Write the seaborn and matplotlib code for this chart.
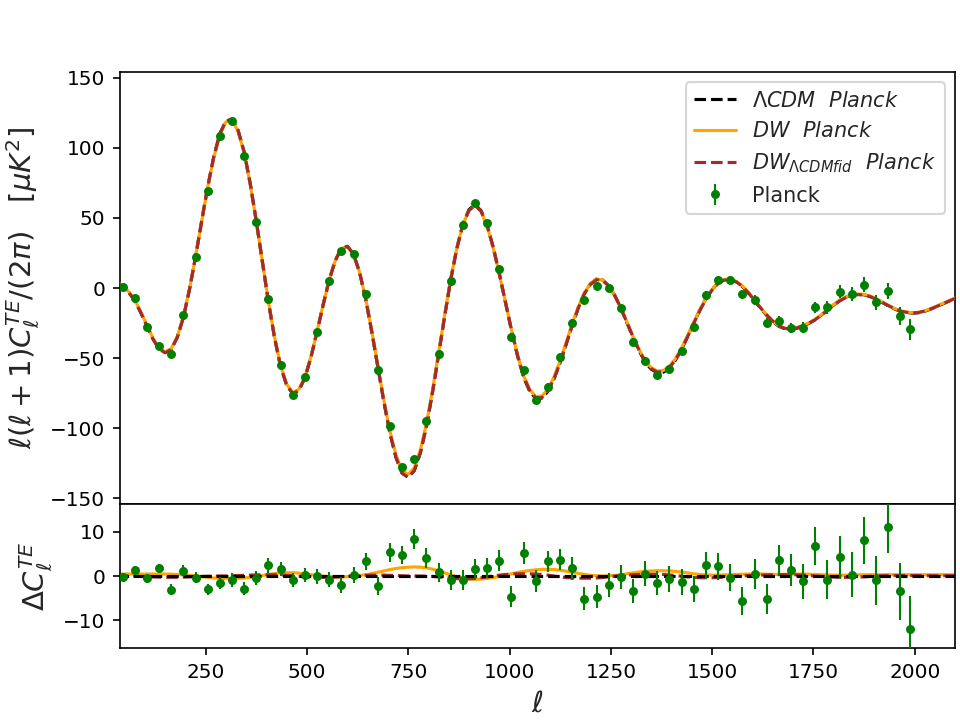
"""TE power spectrum: Planck binned data vs LCDM / DW model curves, with residual panel."""

import matplotlib
matplotlib.use("Agg")
import matplotlib.pyplot as plt
import numpy as np
import pandas as pd
import seaborn as sns

sns.set_theme(style="ticks", context="notebook")
plt.rcParams.update({
    "font.family": ["DejaVu Sans"],
    "mathtext.fontset": "dejavusans",
    "axes.edgecolor": "black",
    "axes.linewidth": 0.8,
    "xtick.color": "black",
    "ytick.color": "black",
    "xtick.major.size": 3.5,
    "ytick.major.size": 3.5,
    "xtick.major.width": 0.8,
    "ytick.major.width": 0.8,
    "xtick.major.pad": 3.5,
    "ytick.major.pad": 3.5,
    "xtick.labelsize": 9.6,
    "ytick.labelsize": 9.6,
    "legend.fontsize": 10,
})

# ---------------------------------------------------------------------------
# Data
# ---------------------------------------------------------------------------
ell_grid = np.arange(29.5, 2115.0, 15.0)

lcdm_curve = [
    4.0, 1.1, -3.1, -9.0, -17.6, -27.0, -36.3, -43.3, -45.9, -43.6,
    -34.9, -20.8, -1.0, 22.2, 47.5, 72.1, 93.5, 110.0, 119.0, 120.3,
    112.3, 96.9, 74.3, 47.5, 18.5, -10.1, -35.5, -56.1, -69.3, -75.3,
    -72.9, -64.0, -49.1, -31.0, -11.9, 5.9, 19.7, 28.4, 29.7, 24.2,
    11.0, -7.8, -31.1, -56.3, -81.2, -103.6, -120.9, -132.1, -134.9, -130.2,
    -117.5, -98.6, -74.4, -47.5, -19.9, 6.2, 28.4, 45.6, 55.9, 59.5,
    55.1, 44.6, 28.9, 10.1, -10.2, -30.3, -48.5, -63.6, -73.6, -78.8,
    -78.5, -73.7, -64.8, -53.2, -39.9, -26.3, -13.9, -3.7, 3.0, 6.35,
    5.7, 1.75, -5.3, -14.4, -24.7, -35.1, -44.7, -52.7, -57.9, -60.4,
    -60.0, -57.0, -51.3, -43.6, -34.5, -24.9, -15.8, -7.7, -1.2, 3.5,
    5.8, 6.1, 4.4, 1.1, -3.6, -9.05, -14.4, -19.5, -23.9, -27.3,
    -29.1, -29.6, -28.7, -27.0, -25.1, -22.6, -19.3, -15.7, -12.2, -9.0,
    -6.6, -5.0, -4.5, -4.8, -6.0, -7.9, -10.2, -12.6, -14.8, -16.6,
    -17.4, -17.9, -17.6, -16.6, -15.0, -13.2, -11.3, -9.4, -7.5, -5.6,
]

# DW minus LCDM
dw_resid = [
    0.4, 0.45, 0.45, 0.45, 0.45, 0.45, 0.45, 0.45, 0.45, 0.4,
    0.35, 0.25, 0.15, 0.0, -0.15, -0.3, -0.45, -0.55, -0.6, -0.6,
    -0.55, -0.45, -0.3, -0.1, 0.1, 0.35, 0.55, 0.7, 0.75, 0.75,
    0.65, 0.5, 0.3, 0.1, -0.05, -0.15, -0.2, -0.2, -0.15, -0.05,
    0.1, 0.3, 0.55, 0.85, 1.15, 1.45, 1.7, 1.9, 2.0, 2.05,
    2.0, 1.85, 1.55, 1.15, 0.7, 0.25, -0.15, -0.45, -0.65, -0.75,
    -0.7, -0.55, -0.35, -0.1, 0.2, 0.5, 0.8, 1.05, 1.25, 1.4,
    1.5, 1.5, 1.45, 1.3, 1.1, 0.85, 0.6, 0.35, 0.15, 0.05,
    0.0, 0.05, 0.15, 0.3, 0.5, 0.7, 0.9, 1.05, 1.15, 1.2,
    1.2, 1.15, 1.05, 0.9, 0.7, 0.5, 0.35, 0.25, 0.2, 0.2,
    0.25, 0.3, 0.35, 0.4, 0.45, 0.45, 0.45, 0.4, 0.35, 0.35,
    0.4, 0.45, 0.45, 0.45, 0.4, 0.35, 0.3, 0.25, 0.2, 0.2,
    0.2, 0.2, 0.25, 0.3, 0.3, 0.3, 0.3, 0.3, 0.3, 0.3,
    0.3, 0.3, 0.3, 0.3, 0.3, 0.3, 0.3, 0.3, 0.3, 0.3,
]

# DW (LCDM fiducial) minus LCDM
dwfid_resid = [
    0.0, 0.0, 0.0, -0.05, -0.1, -0.15, -0.2, -0.25, -0.3, -0.3,
    -0.3, -0.25, -0.2, -0.15, -0.1, -0.05, 0.0, 0.0, 0.0, 0.05,
    0.1, 0.15, 0.2, 0.25, 0.3, 0.3, 0.3, 0.25, 0.15, 0.05,
    -0.05, -0.15, -0.25, -0.3, -0.3, -0.3, -0.25, -0.15, -0.05, 0.05,
    0.1, 0.15, 0.2, 0.2, 0.2, 0.15, 0.1, 0.05, 0.0, 0.0,
    0.0, -0.05, -0.1, -0.2, -0.35, -0.5, -0.6, -0.65, -0.65, -0.55,
    -0.4, -0.2, 0.0, 0.2, 0.35, 0.45, 0.5, 0.5, 0.5, 0.45,
    0.35, 0.2, 0.0, -0.2, -0.35, -0.45, -0.5, -0.5, -0.5, -0.45,
    -0.35, -0.2, -0.05, 0.1, 0.2, 0.3, 0.35, 0.4, 0.4, 0.4,
    0.35, 0.25, 0.1, -0.05, -0.2, -0.3, -0.4, -0.4, -0.4, -0.35,
    -0.25, -0.15, -0.05, 0.05, 0.1, 0.15, 0.2, 0.25, 0.3, 0.3,
    0.3, 0.3, 0.25, 0.2, 0.1, 0.0, -0.1, -0.2, -0.25, -0.3,
    -0.3, -0.3, -0.25, -0.2, -0.1, 0.0, 0.05, 0.1, 0.1, 0.1,
    0.1, 0.1, 0.1, 0.1, 0.05, 0.05, 0.05, 0.05, 0.05, 0.05,
]

ell_data = np.append(np.arange(44.5, 1965.0, 30.0), 1988.0)

planck_dl = [
    0.8, -7.4, -27.5, -41.6, -46.7, -19.6, 21.8, 69.1, 108.4, 119.4,
    94.0, 47.1, -7.7, -54.6, -76.3, -63.7, -31.1, 5.0, 26.3, 24.4,
    -4.5, -58.6, -98.3, -127.3, -121.8, -94.5, -46.7, 5.3, 44.7, 60.3,
    46.4, 13.6, -35.0, -58.4, -79.9, -70.4, -49.5, -24.6, -8.8, 1.7,
    -0.2, -14.6, -38.5, -52.2, -62.0, -57.7, -45.0, -27.8, -5.3, 5.7,
    5.7, -4.5, -8.6, -24.6, -23.7, -28.2, -28.2, -13.9, -13.9, -2.6,
    -4.5, 2.2, -10.3, -2.2, -19.9, -29.4,
]

planck_resid = [
    -0.3, 1.35, -0.5, 1.7, -3.1, 1.2, -0.4, -3.0, -1.65, -0.9,
    -2.9, -0.4, 2.4, 1.5, -1.0, 0.3, -0.1, -0.9, -2.1, 0.2,
    3.3, -2.3, 5.35, 4.8, 8.4, 4.1, 0.8, -0.9, -0.9, 1.5,
    1.8, 3.5, -4.7, 5.2, -1.1, 3.3, 3.7, 1.7, -5.1, -4.65,
    -1.95, -0.2, -3.4, 0.5, -1.6, -0.7, -1.4, -2.9, 2.4, 2.2,
    -0.4, -5.6, 0.45, -5.1, 3.6, 1.4, -1.2, 6.8, -0.8, 4.2,
    0.3, 8.1, -1.0, 11.1, -3.45, -12.0,
]

planck_err = [
    0.9, 0.9, 1.0, 1.0, 1.3, 1.2, 1.2, 1.3, 1.4, 1.5,
    1.5, 1.6, 1.7, 1.6, 1.6, 1.6, 1.7, 1.7, 1.8, 1.8,
    2.0, 2.0, 2.1, 2.1, 2.3, 2.2, 2.2, 2.2, 2.3, 2.3,
    2.3, 2.4, 2.4, 2.4, 2.5, 2.4, 2.4, 2.5, 2.6, 2.6,
    2.7, 2.7, 2.8, 2.8, 2.8, 2.9, 2.9, 3.0, 3.0, 3.0,
    3.1, 3.2, 3.3, 3.4, 3.5, 3.6, 3.9, 4.2, 4.5, 4.8,
    5.1, 5.3, 5.6, 5.8, 6.5, 7.5,
]

# ---------------------------------------------------------------------------
# Tables
# ---------------------------------------------------------------------------
lcdm = np.asarray(lcdm_curve)
curves = pd.DataFrame({
    "ell": ell_grid,
    "lcdm": lcdm,
    "dw": lcdm + np.asarray(dw_resid),
    "dwfid": lcdm + np.asarray(dwfid_resid),
    "d_lcdm": lcdm - lcdm,
    "d_dw": np.asarray(dw_resid),
    "d_dwfid": np.asarray(dwfid_resid),
})

LABEL_LCDM = r"$\Lambda CDM\ \ Planck$"
LABEL_DW = r"$DW\ \ Planck$"
LABEL_DWFID = r"$DW_{\Lambda CDMfid}\ \ Planck$"

# ---------------------------------------------------------------------------
# Figure  (6.4 x 4.8 in at 150 dpi -> 960 x 720 px)
# ---------------------------------------------------------------------------
fig, (ax1, ax2) = plt.subplots(
    2, 1, figsize=(6.4, 4.8), dpi=150, sharex=True,
    gridspec_kw={"height_ratios": [3, 1], "hspace": 0.0},
)
fig.subplots_adjust(left=0.125, right=0.995, top=0.9, bottom=0.1)

lw = 1.5
sns.lineplot(data=curves, x="ell", y="lcdm", color="black", linestyle="--",
             lw=lw, label=LABEL_LCDM, ax=ax1, zorder=2)
sns.lineplot(data=curves, x="ell", y="dw", color="orange", lw=lw,
             label=LABEL_DW, ax=ax1, zorder=3)
sns.lineplot(data=curves, x="ell", y="dwfid", color="brown", linestyle="--",
             lw=lw, label=LABEL_DWFID, ax=ax1, zorder=4)
ax1.errorbar(ell_data, planck_dl, yerr=planck_err, fmt="o", color="green",
             ms=3.3, elinewidth=1.0, capsize=0, label="Planck", zorder=5)

sns.lineplot(data=curves, x="ell", y="d_lcdm", color="black", linestyle="--",
             lw=lw, ax=ax2, zorder=4)
sns.lineplot(data=curves, x="ell", y="d_dw", color="orange", lw=lw,
             ax=ax2, zorder=2)
sns.lineplot(data=curves, x="ell", y="d_dwfid", color="brown", linestyle="--",
             lw=lw, ax=ax2, zorder=3)
ax2.errorbar(ell_data, planck_resid, yerr=planck_err, fmt="o", color="green",
             ms=3.3, elinewidth=1.0, capsize=0, zorder=5)

ax1.set_xlim(38, 2100)
ax1.set_ylim(-154, 154)
ax2.set_ylim(-16.3, 16.3)
ax1.set_yticks([-150, -100, -50, 0, 50, 100, 150])
ax2.set_yticks([-10, 0, 10])
ax2.set_xticks([250, 500, 750, 1000, 1250, 1500, 1750, 2000])

ax1.tick_params(axis="x", bottom=False, labelbottom=False)

ax1.set_xlabel("")
ax1.set_ylabel(r"$\ell(\ell+1)C_\ell^{TE}/(2\pi)\ \ \ [\mu K^2]$", fontsize=14)
ax2.set_ylabel(r"$\Delta C_\ell^{TE}$", fontsize=14)
ax2.set_xlabel(r"$\ell$", fontsize=14)

ax1.legend(loc="upper right", frameon=True, framealpha=0.8,
           edgecolor="0.8", handlelength=2.0)

fig.savefig("out.png", dpi=150)
plt.close(fig)
